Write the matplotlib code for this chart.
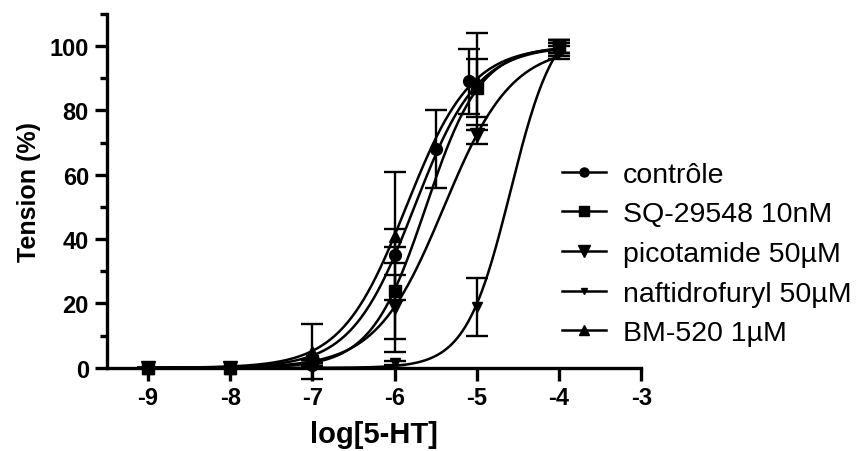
import numpy as np
import matplotlib
matplotlib.use("Agg")
import matplotlib.pyplot as plt
from matplotlib.lines import Line2D

plt.rcParams['font.family'] = ['Liberation Sans', 'DejaVu Sans']
plt.rcParams['axes.unicode_minus'] = False

# data: log[5-HT], tension (%), error (SEM)
names = ["contrôle", "SQ-29548 10nM", "picotamide 50µM", "naftidrofuryl 50µM", "BM-520 1µM"]

ctrl_x = [-9, -8, -7, -6, -5.5, -5.1, -4]
ctrl_y = [0, 0, 1, 35, 68, 89, 99]
ctrl_e = [0, 0, 0.5, 2.5, 12, 10, 3]

sq_x = [-9, -8, -7, -6, -5, -4]
sq_y = [0, 0, 2, 24, 87, 100]
sq_e = [0, 0, 0.5, 19, 9, 2]

pico_x = [-9, -8, -7, -6, -5, -4]
pico_y = [0, 0, 1, 19, 72.5, 99]
pico_e = [0, 0, 0.5, 10, 3, 2]

naft_x = [-9, -8, -7, -6, -5, -4]
naft_y = [0, 0, 0, 1.5, 19, 99]
naft_e = [0, 0, 0, 0.5, 9, 1]

bm_x = [-9, -8, -7, -6, -5, -4]
bm_y = [0, 0, 5, 41, 89, 100]
bm_e = [0, 0, 8.5, 20, 15, 2]

# sigmoid fit parameters (top, logEC50, Hill slope) estimated from the curves
tops = [100, 100, 100, 110, 100]
ec50 = [-5.76, -5.62, -5.40, -4.59, -5.86]
hill = [1.13, 1.30, 1.05, 1.6, 1.10]

markers = ["o", "s", "v", "v", "^"]
msizes = [8.5, 8.5, 10.5, 7, 8.5]
leg_msizes = [6.5, 6.5, 8.5, 5, 6.5]

fig = plt.figure(figsize=(8.63, 4.52), dpi=100)
ax = fig.add_axes([0.124, 0.184, 0.619, 0.783])

series = [(ctrl_x, ctrl_y, ctrl_e), (sq_x, sq_y, sq_e), (pico_x, pico_y, pico_e),
          (naft_x, naft_y, naft_e), (bm_x, bm_y, bm_e)]

xx = np.linspace(-9, -4, 300)
for i, (x, y, e) in enumerate(series):
    curve = tops[i] / (1 + 10 ** ((ec50[i] - xx) * hill[i]))
    ax.plot(xx, curve, color="black", lw=1.8, clip_on=False)
    ax.errorbar(x, y, yerr=e, fmt=markers[i], ms=msizes[i], color="black",
                ecolor="black", elinewidth=1.7, capsize=8, capthick=1.7,
                clip_on=False, zorder=3)

ax.set_xlim(-9.5, -3)
ax.set_ylim(0, 110)
ax.spines['top'].set_visible(False)
ax.spines['right'].set_visible(False)
ax.spines['left'].set_linewidth(2.4)
ax.spines['bottom'].set_linewidth(2.4)
ax.set_xticks([-9, -8, -7, -6, -5, -4, -3])
ax.set_yticks([0, 20, 40, 60, 80, 100])
ax.set_yticks([10, 30, 50, 70, 90, 110], minor=True)
ax.tick_params(axis='both', which='major', length=9, width=2.4, labelsize=17, pad=4)
ax.tick_params(axis='y', which='minor', length=5, width=2.4)
for lab in ax.get_xticklabels() + ax.get_yticklabels():
    lab.set_fontweight('bold')

ax.set_xlabel("log[5-HT]", fontsize=21, fontweight='bold', labelpad=8)
ax.set_ylabel("Tension (%)", fontsize=18, fontweight='bold', labelpad=6)

handles = [Line2D([], [], color="black", lw=1.8, marker=markers[i], ms=leg_msizes[i])
           for i in range(len(names))]
fig.legend(handles, names, loc='upper left', bbox_to_anchor=(0.651, 0.64),
           frameon=False, fontsize=20.5, handlelength=1.55, handletextpad=0.6,
           labelspacing=0.48, borderaxespad=0, borderpad=0)

fig.savefig("out.png", dpi=100)
